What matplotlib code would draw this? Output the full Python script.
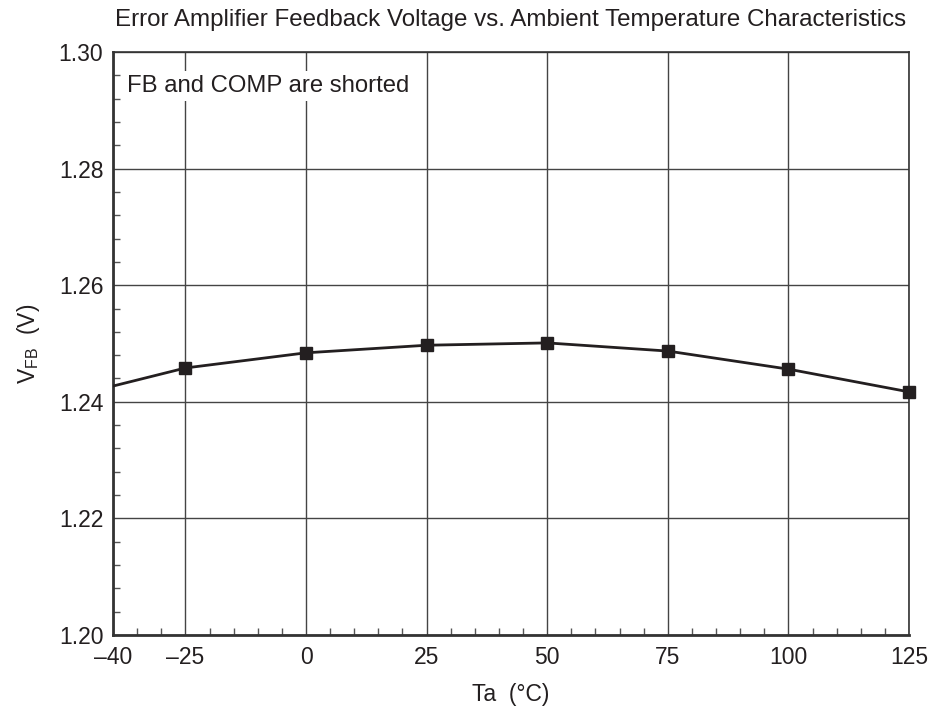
import numpy as np
import matplotlib
matplotlib.use("Agg")
import matplotlib.pyplot as plt
from matplotlib.ticker import MultipleLocator

plt.rcParams['font.family'] = ['Liberation Sans', 'DejaVu Sans']
plt.rcParams['mathtext.fontset'] = 'custom'
plt.rcParams['mathtext.rm'] = 'Liberation Sans'
plt.rcParams['mathtext.it'] = 'Liberation Sans'

# Data
ta = [-40, -25, 0, 25, 50, 75, 100, 125]
vfb = [1.2427, 1.2458, 1.2484, 1.2497, 1.2501, 1.2487, 1.2456, 1.2417]
x_ticks = [-40, -25, 0, 25, 50, 75, 100, 125]
y_ticks = [1.20, 1.22, 1.24, 1.26, 1.28, 1.30]

fig = plt.figure(figsize=(9.35, 7.15), dpi=100)
ax = fig.add_axes([0.1209, 0.1119, 0.8513, 0.8154])

# line through all points, markers only on measured points (not at -40)
ax.plot(ta, vfb, color='#231f20', linewidth=2, zorder=3)
ax.plot(ta[1:], vfb[1:], linestyle='none', marker='s', markersize=8,
        color='#231f20', zorder=4, clip_on=False)

ax.set_xlim(-40, 125)
ax.set_ylim(1.20, 1.30)
ax.set_xticks(x_ticks)
ax.set_xticklabels([str(t).replace('-', '\u2013') for t in x_ticks])
ax.set_yticks(y_ticks)
ax.set_yticklabels([f"{v:.2f}" for v in y_ticks])
ax.xaxis.set_minor_locator(MultipleLocator(5))
ax.yaxis.set_minor_locator(MultipleLocator(0.004))
ax.tick_params(which='major', length=0, labelsize=16.5, colors='#231f20')
ax.tick_params(axis='x', which='major', pad=8)
ax.tick_params(axis='y', which='major', pad=7)
ax.tick_params(which='minor', direction='in', length=5, width=1, color='#555555')
ax.grid(True, which='major', color='#444444', linewidth=1)

for s in ['left', 'bottom']:
    ax.spines[s].set_linewidth(2)
    ax.spines[s].set_color('#333333')
for s in ['top', 'right']:
    ax.spines[s].set_linewidth(1.2)
    ax.spines[s].set_color('#333333')

ax.set_xlabel('Ta  (\u00b0C)', fontsize=16.5, color='#231f20', labelpad=10)
ax.set_ylabel(r'V$_{\mathrm{FB}}$  (V)', fontsize=16.5, color='#231f20', labelpad=12)
ax.set_title('Error Amplifier Feedback Voltage vs. Ambient Temperature Characteristics',
             fontsize=17.4, color='#231f20', pad=19, x=0.5)

ax.text(0.018, 0.942, 'FB and COMP are shorted', transform=ax.transAxes,
        fontsize=17.2, color='#231f20', va='center', ha='left', zorder=5,
        bbox=dict(facecolor='white', edgecolor='none', pad=3))

fig.savefig('out.png', dpi=100)
